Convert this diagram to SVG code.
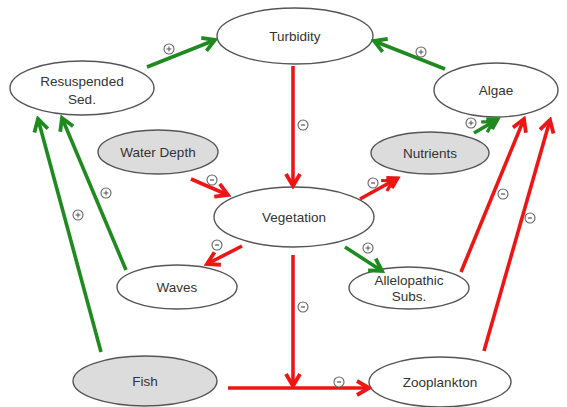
<svg xmlns="http://www.w3.org/2000/svg" width="567" height="407" viewBox="0 0 567 407">
<style>
  .node ellipse { fill: #ffffff; stroke: #555555; stroke-width: 1.4; }
  .node.gray ellipse { fill: #dcdcdc; }
  .node text { font-family: "Liberation Sans", Arial, sans-serif; font-size: 13.5px; fill: #333333; text-anchor: middle; }
  .g { stroke: #1f8a1f; stroke-width: 3.6; fill: none; marker-end: url(#ag); }
  .r { stroke: #ee1515; stroke-width: 3.6; fill: none; marker-end: url(#ar); }
  .g2 { stroke: #1f8a1f; stroke-width: 3.6; fill: none; marker-end: url(#ag2); }
  .r2 { stroke: #ee1515; stroke-width: 3.6; fill: none; marker-end: url(#ar2); }
</style>
<defs>
  <marker id="ag" markerUnits="userSpaceOnUse" markerWidth="18" markerHeight="18" refX="15" refY="9" orient="auto">
    <path d="M3,2 L15,9 L3,16" fill="none" stroke="#1f8a1f" stroke-width="3.8" stroke-linejoin="miter"/>
  </marker>
  <marker id="ar" markerUnits="userSpaceOnUse" markerWidth="18" markerHeight="18" refX="15" refY="9" orient="auto">
    <path d="M3,2 L15,9 L3,16" fill="none" stroke="#ee1515" stroke-width="3.8" stroke-linejoin="miter"/>
  </marker>
  <marker id="ag2" markerUnits="userSpaceOnUse" markerWidth="22" markerHeight="16" refX="19" refY="8" orient="auto">
    <path d="M3,2 L13,8 L3,14 M9,2 L19,8 L9,14" fill="none" stroke="#1f8a1f" stroke-width="3.2"/>
  </marker>
  <marker id="ar2" markerUnits="userSpaceOnUse" markerWidth="22" markerHeight="16" refX="19" refY="8" orient="auto">
    <path d="M3,2 L13,8 L3,14 M9,2 L19,8 L9,14" fill="none" stroke="#ee1515" stroke-width="3.2"/>
  </marker>
  <g id="plus"><circle r="5" fill="#ffffff" stroke="#666666" stroke-width="1.1"/><path d="M-2.5,0 H2.5 M0,-2.5 V2.5" stroke="#555555" stroke-width="1" fill="none"/></g>
  <g id="minus"><circle r="5" fill="#ffffff" stroke="#666666" stroke-width="1.1"/><path d="M-2,0 H2" stroke="#555555" stroke-width="1.2" fill="none"/></g>
</defs>

<g id="nodes">
  <g id="turbidity" class="node"><ellipse cx="295" cy="36" rx="78" ry="28"/><text x="295" y="41">Turbidity</text></g>
  <g id="resuspended" class="node"><ellipse cx="82" cy="88" rx="72" ry="27"/><text x="82" y="86">Resuspended</text><text x="82" y="104">Sed.</text></g>
  <g id="algae" class="node"><ellipse cx="496" cy="90" rx="62" ry="27"/><text x="496" y="95">Algae</text></g>
  <g id="waterdepth" class="node gray"><ellipse cx="158" cy="152" rx="60" ry="22"/><text x="158" y="157">Water Depth</text></g>
  <g id="nutrients" class="node gray"><ellipse cx="430" cy="153" rx="59" ry="21"/><text x="430" y="158">Nutrients</text></g>
  <g id="vegetation" class="node"><ellipse cx="294" cy="217" rx="80" ry="30"/><text x="294" y="222">Vegetation</text></g>
  <g id="waves" class="node"><ellipse cx="177" cy="287" rx="60" ry="22"/><text x="177" y="292">Waves</text></g>
  <g id="allelopathic" class="node"><ellipse cx="409" cy="288" rx="60" ry="21"/><text x="409" y="285">Allelopathic</text><text x="409" y="301">Subs.</text></g>
  <g id="fish" class="node gray"><ellipse cx="145" cy="381" rx="72" ry="25"/><text x="145" y="386">Fish</text></g>
  <g id="zooplankton" class="node"><ellipse cx="440" cy="382" rx="71" ry="25"/><text x="440" y="387">Zooplankton</text></g>
</g>

<g id="connectors">
  <line class="g" x1="147" y1="67" x2="215" y2="40"/>
  <line class="g" x1="445" y1="69" x2="374" y2="41"/>
  <line class="r" x1="293" y1="66" x2="293" y2="186"/>
  <line class="r" x1="191" y1="179" x2="228" y2="195"/>
  <line class="r2" x1="360" y1="199" x2="398" y2="178"/>
  <line class="g2" x1="474" y1="133" x2="498" y2="119"/>
  <line class="r" x1="242" y1="246" x2="207" y2="264"/>
  <line class="g" x1="345" y1="247" x2="382" y2="271"/>
  <line class="r" x1="293" y1="255" x2="293" y2="386"/>
  <line class="r" x1="228" y1="388" x2="369" y2="388"/>
  <line class="g" x1="126" y1="270" x2="62" y2="118"/>
  <line class="g" x1="101" y1="352" x2="38" y2="119"/>
  <line class="r" x1="461" y1="272" x2="524" y2="119"/>
  <line class="r" x1="484" y1="351" x2="550" y2="120"/>
</g>

<g id="signs">
  <use href="#plus" x="169" y="49"/>
  <use href="#plus" x="421" y="52"/>
  <use href="#minus" x="303" y="125"/>
  <use href="#minus" x="212" y="180"/>
  <use href="#minus" x="373" y="183"/>
  <use href="#plus" x="471" y="123"/>
  <use href="#minus" x="217" y="245"/>
  <use href="#plus" x="368" y="248"/>
  <use href="#minus" x="303" y="307"/>
  <use href="#minus" x="339" y="382"/>
  <use href="#plus" x="106" y="193"/>
  <use href="#plus" x="78" y="215"/>
  <use href="#minus" x="503" y="194"/>
  <use href="#minus" x="530" y="218"/>
</g>
</svg>
